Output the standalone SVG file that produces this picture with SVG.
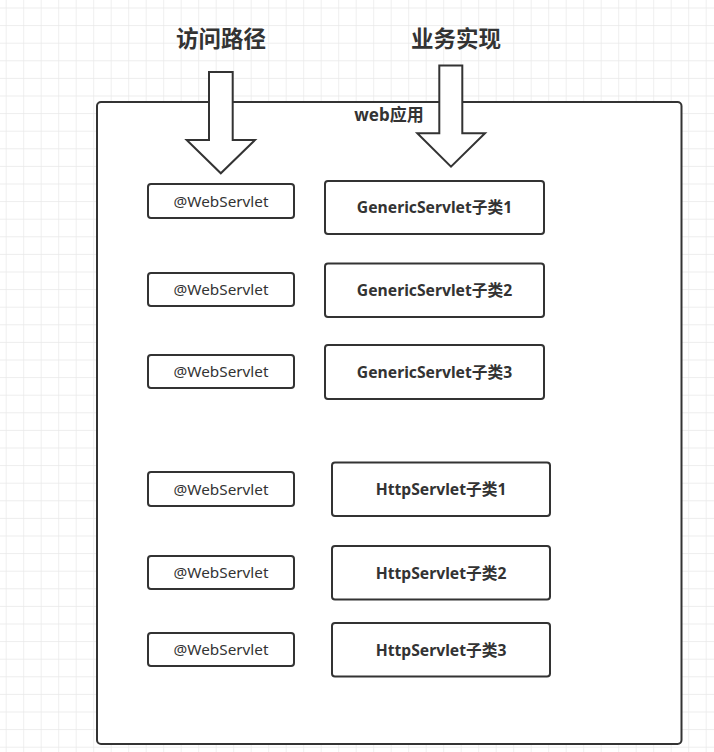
<svg xmlns="http://www.w3.org/2000/svg" width="714" height="752" viewBox="0 0 714 752">
<defs>
<pattern id="grid" x="5.7" y="7.5" width="17.5" height="17.6" patternUnits="userSpaceOnUse">
<path d="M0 0H17.5M0 0V17.6" fill="none" stroke="#e8e8e8" stroke-width="1.3"/>
</pattern>
<style>
.box{fill:#fff;stroke:#333;stroke-width:2}
.arrow{fill:#fff;stroke:#333;stroke-width:2;stroke-linejoin:miter}
.title{font-family:"Noto Sans CJK SC","Noto Sans",sans-serif;font-weight:bold;font-size:22.5px;fill:#333;text-anchor:middle}
.app{font-family:"Noto Sans","Noto Sans CJK SC",sans-serif;font-weight:bold;font-size:17px;fill:#333;text-anchor:middle}
.ann{font-family:"Noto Sans","Noto Sans CJK SC",sans-serif;font-size:15.3px;fill:#333;text-anchor:middle}
.cls{font-family:"Noto Sans","Noto Sans CJK SC",sans-serif;font-weight:bold;font-size:15.7px;fill:#333;text-anchor:middle}
</style>
</defs>
<rect width="714" height="752" fill="#fff"/>
<rect width="714" height="752" fill="url(#grid)"/>

<g id="container">
<rect class="box" x="97" y="102" width="584.5" height="642" rx="4"/>
<text class="app" x="389" y="120.5">web应用</text>
</g>

<g id="connectors">
<path class="arrow" d="M209 72H232.7V140H255L220.8 173.3L186.7 140H209Z"/>
<path class="arrow" d="M439.3 65.5H462.3V133.3H485L451 166.7L417.3 133.3H439.3Z"/>
</g>

<g id="title-path"><text class="title" x="221" y="47">访问路径</text></g>
<g id="title-impl"><text class="title" x="456" y="47">业务实现</text></g>

<g id="ann1"><rect class="box" x="148" y="184" width="146" height="34" rx="3"/><text class="ann" x="221" y="206.5">@WebServlet</text></g>
<g id="ann2"><rect class="box" x="148" y="273" width="146" height="33" rx="3"/><text class="ann" x="221" y="295">@WebServlet</text></g>
<g id="ann3"><rect class="box" x="148" y="355" width="146" height="33" rx="3"/><text class="ann" x="221" y="377">@WebServlet</text></g>
<g id="ann4"><rect class="box" x="148" y="472" width="146" height="34" rx="3"/><text class="ann" x="221" y="494.5">@WebServlet</text></g>
<g id="ann5"><rect class="box" x="148" y="556" width="146" height="33" rx="3"/><text class="ann" x="221" y="578">@WebServlet</text></g>
<g id="ann6"><rect class="box" x="148" y="633" width="146" height="33" rx="3"/><text class="ann" x="221" y="655">@WebServlet</text></g>

<g id="generic1"><rect class="box" x="325" y="181" width="219" height="53" rx="3"/><text class="cls" x="434.5" y="213">GenericServlet子类1</text></g>
<g id="generic2"><rect class="box" x="325" y="263.5" width="219" height="53.5" rx="3"/><text class="cls" x="434.5" y="295.5">GenericServlet子类2</text></g>
<g id="generic3"><rect class="box" x="325" y="345" width="219" height="54" rx="3"/><text class="cls" x="434.5" y="377.5">GenericServlet子类3</text></g>

<g id="http1"><rect class="box" x="332" y="462.5" width="218" height="53.5" rx="3"/><text class="cls" x="441" y="494.5">HttpServlet子类1</text></g>
<g id="http2"><rect class="box" x="332" y="546" width="218" height="53.5" rx="3"/><text class="cls" x="441" y="578.5">HttpServlet子类2</text></g>
<g id="http3"><rect class="box" x="332" y="623" width="218" height="53.5" rx="3"/><text class="cls" x="441" y="655.5">HttpServlet子类3</text></g>
</svg>
